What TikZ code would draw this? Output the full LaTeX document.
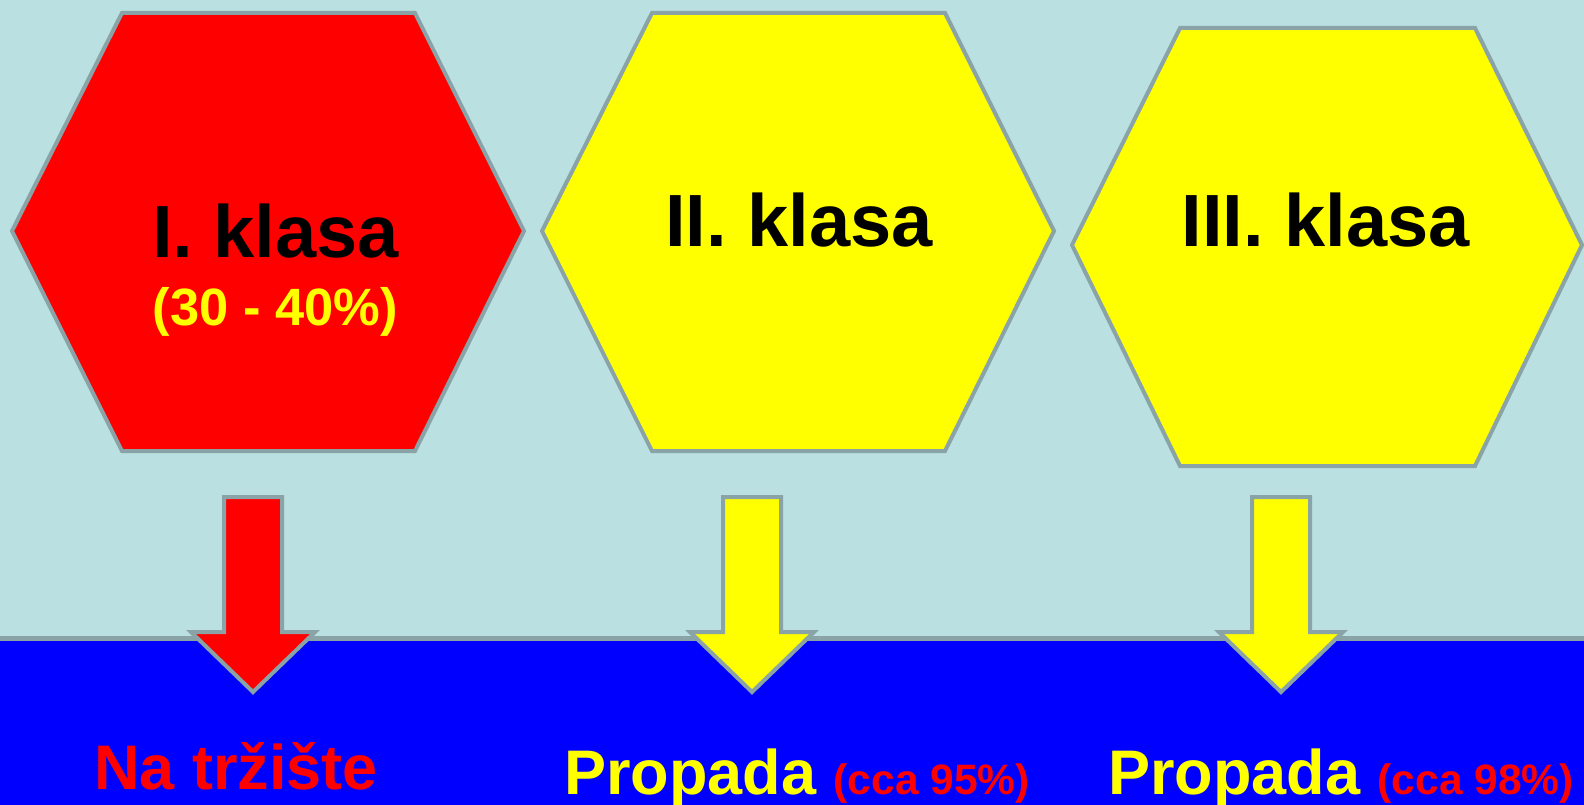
\documentclass[tikz,border=0pt]{standalone}
\usepackage{fontspec}
\setmainfont{Liberation Sans}
\definecolor{bgc}{RGB}{186,224,226}
\definecolor{edgec}{RGB}{137,163,166}
\definecolor{deepblue}{RGB}{0,0,255}
\definecolor{hexred}{RGB}{255,0,0}
\definecolor{hexyellow}{RGB}{255,255,0}
\tikzset{
  hexa/.style={draw=edgec, line width=4pt},
  arrowline/.style={draw=edgec, line width=4pt},
  pics/downarr/.style={code={
    \draw[arrowline, fill=#1] (-29,0) -- (29,0) -- (29,135) -- (62,135) -- (0,195) -- (-62,135) -- (-29,135) -- cycle;
  }},
  lbl/.style={inner sep=0pt, anchor=base, font=\fontsize{74}{80}\selectfont\bfseries},
  sublbl/.style={inner sep=0pt, anchor=base, font=\fontsize{52.5}{56}\selectfont\bfseries, text=hexyellow},
  outlbl/.style={inner sep=0pt, anchor=base west, font=\fontsize{63}{68}\selectfont\bfseries},
}
\newcommand{\smallpct}[1]{{\fontsize{42.5}{46}\selectfont\bfseries\color{hexred}#1}}
\begin{document}
\begin{tikzpicture}[x=1pt,y=-1pt]
\useasboundingbox (0,0) rectangle (1584,805);
\clip (0,0) rectangle (1584,805);
\fill[bgc] (0,0) rectangle (1584,805);
\fill[deepblue] (0,638) rectangle (1584,805);
\draw[edgec, line width=5pt] (0,638.5) -- (1584,638.5);

% hexagons
\draw[hexa, fill=hexred] (12,231) -- (122,13) -- (415,13) -- (524,231) -- (415,451) -- (122,451) -- cycle;
\draw[hexa, fill=hexyellow] (542,231) -- (652,13) -- (945,13) -- (1054,231) -- (945,451) -- (652,451) -- cycle;
\draw[hexa, fill=hexyellow] (1072,245) -- (1180,28) -- (1475,28) -- (1582,245) -- (1475,466) -- (1180,466) -- cycle;

% arrows
\pic at (253,497) {downarr=hexred};
\pic at (752,497) {downarr=hexyellow};
\pic at (1281,497) {downarr=hexyellow};

% texts
\node[lbl] (h1) at (275.5,257) {I. klasa};
\node[sublbl] (h1p) at (275.5,325) {(30 - 40\%)};
\node[lbl] (h2) at (799,246) {II. klasa};
\node[lbl] (h3) at (1325.5,246) {III. klasa};

\node[outlbl, text=hexred] (o1) at (94,789) {Na tržište};
\node[outlbl, text=hexyellow] (o2) at (564,794) {Propada \smallpct{(cca 95\%)}};
\node[outlbl, text=hexyellow] (o3) at (1108,794) {Propada \smallpct{(cca 98\%)}};
\end{tikzpicture}
\end{document}
